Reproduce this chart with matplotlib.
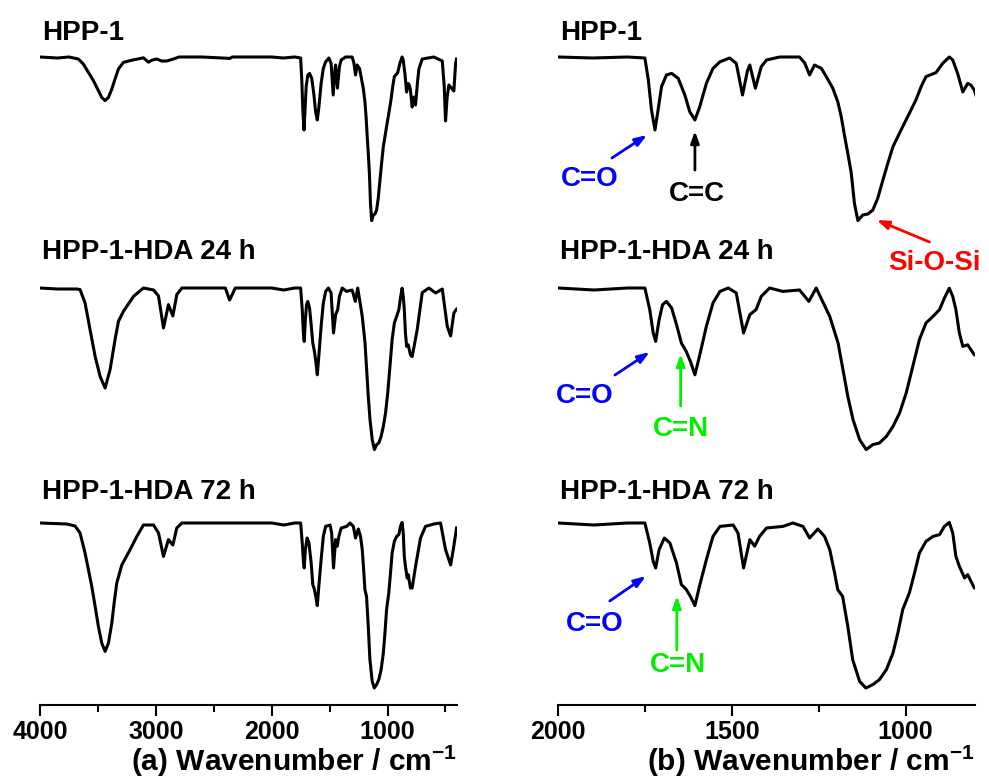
import numpy as np
import matplotlib
matplotlib.use("Agg")
import matplotlib.pyplot as plt

plt.rcParams['font.family'] = ['Liberation Sans', 'DejaVu Sans']
plt.rcParams['font.weight'] = 'bold'
plt.rcParams['mathtext.fontset'] = 'custom'
plt.rcParams['mathtext.rm'] = 'Liberation Sans:bold'
plt.rcParams['mathtext.bf'] = 'Liberation Sans:bold'

# (wavenumber cm-1, relative transmittance %)
hpp1 = [(4000, 100), (3850, 99.5), (3750, 100), (3669, 99), (3626, 96.5), (3582, 92.3),
        (3539, 88.2), (3496, 83.2), (3467, 79.8), (3438, 78.2), (3409, 79.8), (3380, 84),
        (3352, 89), (3323, 94), (3280, 97.3), (3222, 98.2), (3107, 99.6), (3064, 97.4),
        (3030, 98.5), (2991, 99), (2950, 98), (2905, 98), (2848, 99), (2800, 100),
        (2600, 100), (2360, 99.3), (2340, 100), (2200, 100), (2000, 100), (1900, 99.5),
        (1800, 100), (1750, 99.5), (1740, 88.5), (1731, 73.5), (1721, 63.5), (1712, 73.5),
        (1702, 85.2), (1688, 91), (1673, 91.8), (1654, 89.3), (1635, 81), (1621, 72.7),
        (1606, 68.5), (1592, 75.2), (1573, 86.8), (1554, 94.3), (1534, 97.6), (1506, 99.5),
        (1487, 96.8), (1469, 81), (1455, 93), (1448, 96), (1432, 84.4), (1415, 95.2),
        (1400, 98.5), (1362, 100), (1305, 100), (1290, 97), (1276, 91), (1262, 96),
        (1242, 94.3), (1228, 90.2), (1209, 84.3), (1195, 77.7), (1185, 70.2), (1175, 60.2),
        (1166, 51.8), (1156, 41.8), (1147, 26.8), (1137, 18.2), (1123, 21), (1108, 21.5),
        (1094, 23.5), (1080, 29.3), (1065, 38.5), (1051, 46.8), (1036, 55.2), (1022, 60.2),
        (1008, 65.2), (989, 71.8), (970, 78.5), (955, 85.2), (941, 90.2), (912, 92.2),
        (893, 96.8), (874, 100), (864, 98.5), (850, 91.8), (835, 82.5), (821, 86.8),
        (812, 86), (802, 83.5), (787, 75), (770, 80), (758, 76), (740, 88), (729, 94),
        (700, 99), (600, 100), (527, 98), (510, 85), (499, 68), (485, 80), (470, 86),
        (441, 84), (427, 83), (412, 97), (404, 99)]

hda24 = [(4000, 100), (3850, 99.5), (3683, 99.5), (3654, 99.2), (3611, 92.5), (3568, 79.2),
         (3524, 65.8), (3481, 55.8), (3438, 50), (3395, 59.2), (3352, 74.2), (3323, 83.3),
         (3280, 88.3), (3193, 95.8), (3107, 100), (3020, 99), (2977, 96), (2934, 80),
         (2891, 91.7), (2853, 86), (2819, 96.7), (2775, 100), (2400, 100), (2363, 94),
         (2314, 100), (2000, 100), (1896, 99), (1800, 100), (1750, 100), (1736, 89.2),
         (1726, 77.5), (1719, 73.3), (1709, 84.2), (1699, 91.7), (1688, 93.3), (1673, 90),
         (1659, 81.7), (1645, 72.5), (1631, 68.3), (1619, 63.3), (1606, 56.6), (1593, 65.8),
         (1573, 80.9), (1554, 92.5), (1534, 98.3), (1510, 100), (1487, 97.5), (1466, 77.5),
         (1448, 86.7), (1430, 89.2), (1415, 95.8), (1391, 100), (1353, 98.3), (1305, 99),
         (1278, 93.3), (1257, 100), (1218, 85.8), (1194, 72.5), (1180, 59.2), (1166, 45.8),
         (1151, 34.2), (1132, 24.2), (1113, 19.2), (1094, 21.7), (1075, 22.5), (1055, 25.8),
         (1036, 30.8), (1017, 37.5), (998, 47.5), (979, 60.8), (960, 74.2), (941, 82.5),
         (921, 85.8), (902, 89.2), (888, 95), (874, 99.9), (864, 95.8), (855, 89.2),
         (845, 77.5), (835, 70.8), (821, 71.6), (802, 66.6), (787, 65.7), (744, 79),
         (700, 97.7), (643, 100), (585, 97.5), (527, 99.5), (484, 80.8), (455, 76),
         (427, 87.5), (404, 89.4)]

hda72 = [(4000, 100), (3769, 99.5), (3697, 98.5), (3654, 95), (3611, 85), (3553, 68.3),
         (3524, 58.3), (3496, 48.3), (3467, 40), (3438, 35.8), (3409, 40), (3380, 50),
         (3360, 60), (3337, 70), (3294, 79), (3222, 86.7), (3164, 93.3), (3107, 99),
         (3020, 99), (2977, 95), (2934, 83.3), (2891, 91.7), (2853, 89), (2819, 97.5),
         (2775, 100), (2400, 100), (2000, 100), (1896, 99), (1800, 100), (1750, 100),
         (1736, 90), (1726, 80.8), (1719, 77.5), (1709, 86.7), (1694, 92.5), (1678, 90),
         (1659, 80), (1645, 69.2), (1632, 67), (1619, 63.3), (1606, 58.7), (1593, 68.3),
         (1573, 81.7), (1554, 93.3), (1534, 98.3), (1496, 99), (1482, 95), (1466, 77.5),
         (1448, 91.7), (1434, 88.4), (1420, 93.3), (1400, 97.5), (1353, 98.3), (1324, 100),
         (1295, 98.3), (1276, 92.5), (1252, 97), (1233, 93.3), (1218, 86.7), (1204, 75),
         (1195, 66.7), (1181, 63.3), (1166, 48.3), (1152, 31.7), (1132, 20.8), (1114, 17.5),
         (1094, 19.2), (1075, 21.7), (1055, 26.7), (1036, 35), (1022, 45), (1008, 56.7),
         (989, 65), (974, 75), (960, 85), (941, 90.8), (921, 93.3), (902, 94.2),
         (888, 98.3), (874, 100.3), (864, 95), (855, 83.3), (845, 78.3), (830, 72.5),
         (821, 74.2), (802, 67.5), (787, 67.5), (758, 78.3), (715, 92.5), (672, 98.3),
         (600, 99.5), (542, 100), (499, 86.7), (455, 79), (432, 86.7), (404, 97.5)]

spectra = [hpp1, hda24, hda72]
names = ["HPP-1", "HPP-1-HDA 24 h", "HPP-1-HDA 72 h"]
offsets = [648, 417, 182]   # baseline height of each trace
label_y = [672, 453, 213]
SCALE = 2.0

fig = plt.figure(figsize=(9.89, 7.8), dpi=100)
W, H = 989.0, 780.0
ax_a = fig.add_axes([40 / W, 1 - 705 / H, 417 / W, 690 / H])
ax_b = fig.add_axes([558 / W, 1 - 705 / H, 417 / W, 690 / H])

panels = [(ax_a, (4000, 400), [4000, 3000, 2000, 1000], [3500, 2500, 1500, 500],
           "(a) Wavenumber / cm$^{\\mathbf{-1}}$", 3983),
          (ax_b, (2000, 800), [2000, 1500, 1000], [1750, 1250],
           "(b) Wavenumber / cm$^{\\mathbf{-1}}$", 1994)]

for ax, xlim, major, minor, xlabel, lx in panels:
    for data, off, name, ly in zip(spectra, offsets, names, label_y):
        arr = np.array(data)
        ax.plot(arr[:, 0], off + (arr[:, 1] - 100) * SCALE, color='black', lw=2.2,
                solid_joinstyle='round')
        ax.text(lx, ly, name, fontsize=20, fontweight='bold', ha='left', va='center')
    ax.set_xlim(*xlim)
    ax.set_ylim(0, 690)
    ax.set_xticks(major)
    ax.set_xticks(minor, minor=True)
    ax.set_yticks([])
    for s in ['top', 'left', 'right']:
        ax.spines[s].set_visible(False)
    ax.spines['bottom'].set_linewidth(1.5)
    ax.tick_params(axis='x', which='major', direction='out', length=8, width=1.5,
                   labelsize=18, pad=3)
    ax.tick_params(axis='x', which='minor', direction='out', length=5, width=1.5)
    for t in ax.get_xticklabels():
        t.set_fontweight('bold')
    ax.set_xlabel(xlabel, fontsize=21.5, fontweight='bold', loc='right', labelpad=-1)


def arrow(ax, tail, head, color):
    ax.annotate('', xy=head, xytext=tail,
                arrowprops=dict(arrowstyle='-|>,head_length=0.7,head_width=0.25',
                                color=color, lw=2, shrinkA=0, shrinkB=0))


blue, green, red = '#0000ff', '#00ee00', '#ff0000'
fs = 20
# top trace
ax_b.text(1908, 526, "C=O", color=blue, fontsize=fs, fontweight='bold', ha='center', va='center')
arrow(ax_b, (1845, 547), (1744, 570), blue)
ax_b.text(1601, 511, "C=C", color='black', fontsize=fs, fontweight='bold', ha='center', va='center')
arrow(ax_b, (1606, 535), (1606, 574), 'black')
ax_b.text(917, 442, "Si-O-Si", color=red, fontsize=fs, fontweight='bold', ha='center', va='center')
arrow(ax_b, (931, 463), (1083, 485), red)
# middle trace
ax_b.text(1922, 309, "C=O", color=blue, fontsize=fs, fontweight='bold', ha='center', va='center')
arrow(ax_b, (1836, 330), (1736, 353), blue)
ax_b.text(1647, 276, "C=N", color=green, fontsize=fs, fontweight='bold', ha='center', va='center')
arrow(ax_b, (1647, 299), (1647, 351), green)
# bottom trace
ax_b.text(1894, 81, "C=O", color=blue, fontsize=fs, fontweight='bold', ha='center', va='center')
arrow(ax_b, (1851, 104), (1747, 129), blue)
ax_b.text(1655, 40, "C=N", color=green, fontsize=fs, fontweight='bold', ha='center', va='center')
arrow(ax_b, (1658, 55), (1658, 109), green)

fig.savefig("out.png", dpi=100)
